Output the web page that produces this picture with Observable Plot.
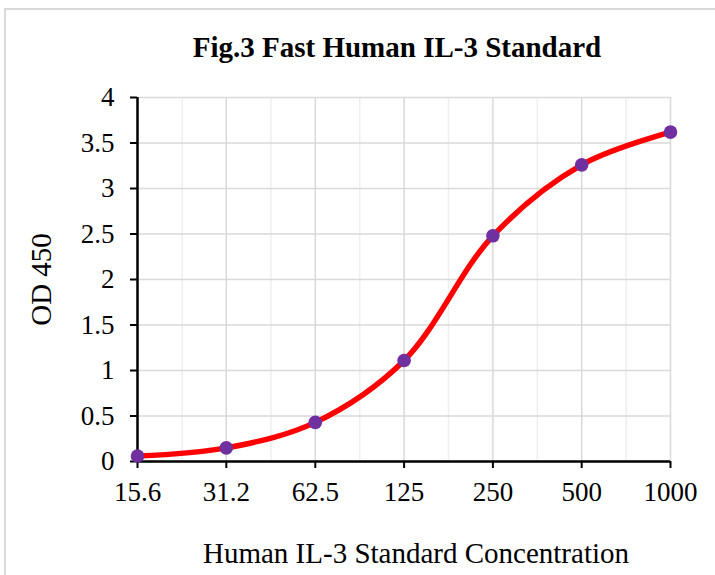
<!DOCTYPE html>
<html><head><meta charset="utf-8">
<script src="https://cdn.jsdelivr.net/npm/d3@7"></script>
<script src="https://cdn.jsdelivr.net/npm/@observablehq/plot@0.6"></script>
<style>
body{margin:0;background:#fff;}
#wrap{position:relative;width:715px;height:575px;overflow:hidden;font-family:"Liberation Serif","Times New Roman",serif;}
#frame{position:absolute;left:4px;top:8px;width:760px;height:600px;border-left:2px solid #d9d9d9;border-top:2px solid #d9d9d9;}
#title{position:absolute;top:30px;left:0;width:794px;text-align:center;font-weight:bold;font-size:29px;line-height:34px;color:#000;font-family:"Liberation Serif","Times New Roman",serif;}
#chart{position:absolute;left:0;top:80px;}
</style></head>
<body>
<div id="wrap">
  <div id="frame"></div>
  <div id="title">Fig.3 Fast Human IL-3 Standard</div>
  <div id="chart"></div>
</div>
<script>
const conc = [15.6, 31.2, 62.5, 125, 250, 500, 1000];
const od = [0.06, 0.15, 0.43, 1.11, 2.48, 3.26, 3.62];
const xTickLabels = ["15.6", "31.2", "62.5", "125", "250", "500", "1000"];
const minorX = [22.1, 44.2, 88.4, 176.8, 353.6, 707.1];
const yTicks = [0, 0.5, 1, 1.5, 2, 2.5, 3, 3.5, 4];
const xLabel = "Human IL-3 Standard Concentration";
const yLabel = "OD 450";

const data = conc.map((c, i) => ({c, v: od[i]}));
const serif = '"Liberation Serif","Times New Roman",serif';

const chart = Plot.plot({
  width: 715,
  height: 495,
  marginLeft: 137,
  marginRight: 45,
  marginTop: 17,
  marginBottom: 114,
  x: {type: "log", domain: [15.6, 1000], axis: null},
  y: {domain: [0, 4], axis: null},
  style: {fontFamily: serif, fontSize: "27px", color: "#000", background: "transparent"},
  marks: [
    Plot.ruleX(minorX, {stroke: "#efefef", strokeWidth: 1.5}),
    Plot.ruleX(conc, {stroke: "#d9d9d9", strokeWidth: 1.5}),
    Plot.ruleY(yTicks, {stroke: "#d9d9d9", strokeWidth: 1.5}),
    // tick marks
    Plot.ruleX(conc, {y1: 0, y2: 0, insetBottom: -7, stroke: "#000", strokeWidth: 2}),
    Plot.ruleY(yTicks, {x1: 15.6, x2: 15.6, insetLeft: -7, stroke: "#000", strokeWidth: 2}),
    // axis lines
    Plot.ruleY([0], {stroke: "#000", strokeWidth: 2.5}),
    Plot.ruleX([15.6], {stroke: "#000", strokeWidth: 2.5}),
    // tick labels
    Plot.text(conc, {x: d => d, text: (d, i) => xTickLabels[i], frameAnchor: "bottom", lineAnchor: "top", dy: 20, fontSize: 27, fill: "#000"}),
    Plot.text(yTicks, {y: d => d, text: d => String(d), frameAnchor: "left", textAnchor: "end", dx: -23, fontSize: 27, fill: "#000"}),
    // data
    Plot.line(data, {x: "c", y: "v", curve: "catmull-rom", stroke: "#ff0000", strokeWidth: 5.5}),
    Plot.dot(data, {x: "c", y: "v", r: 6.8, fill: "#7030a0", stroke: "none"}),
    // axis titles
    Plot.text([xLabel], {frameAnchor: "bottom", dx: 12, dy: 92, lineAnchor: "middle", textAnchor: "middle", fontSize: 29, fill: "#000"}),
    Plot.text([yLabel], {frameAnchor: "left", dx: -96, rotate: -90, lineAnchor: "middle", textAnchor: "middle", fontSize: 29, fill: "#000"})
  ]
});
document.getElementById("chart").appendChild(chart);
</script>
</body></html>
